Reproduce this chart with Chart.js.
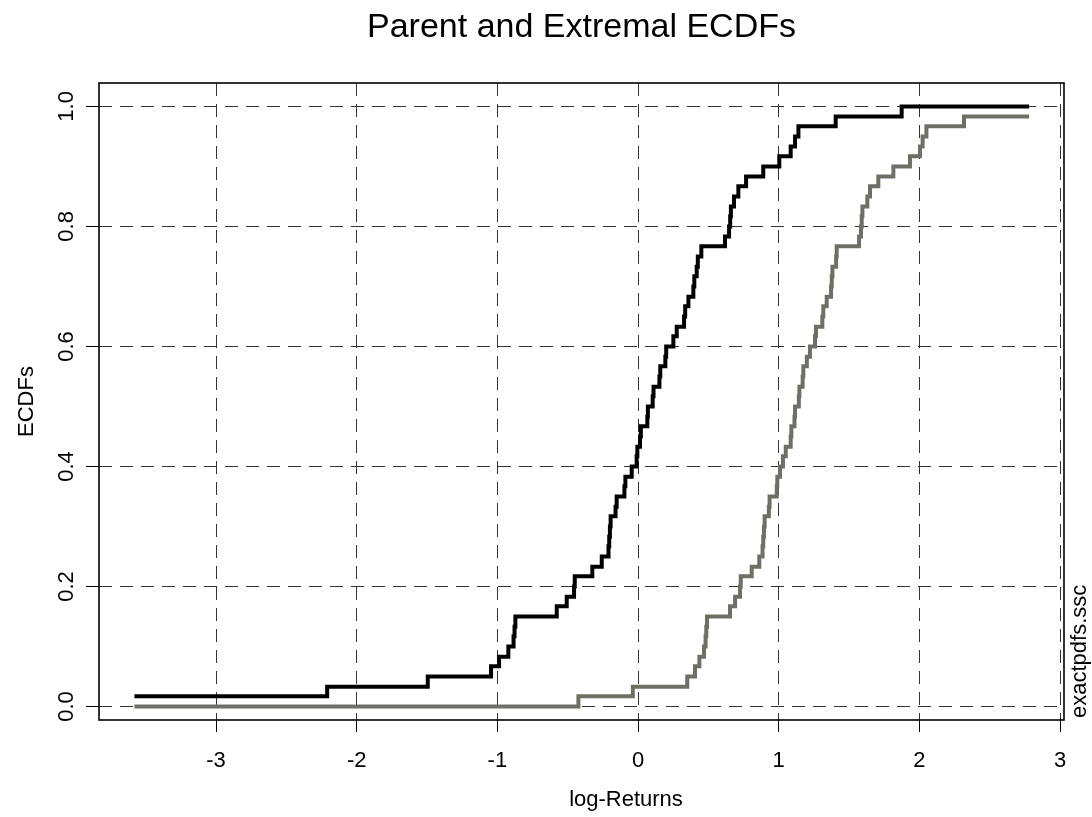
<!DOCTYPE html>
<html>
<head>
<meta charset="utf-8">
<title>Parent and Extremal ECDFs</title>
<script src="https://cdn.jsdelivr.net/npm/chart.js@4.4.1/dist/chart.umd.min.js"></script>
<style>
  html, body { margin: 0; padding: 0; background: #fff; }
  #wrap { width: 1092px; height: 817px; }
</style>
</head>
<body>
<div id="wrap"><canvas id="ecdf" width="1092" height="817"></canvas></div>
<script>
// values: jump positions (log-returns) and ECDF height after each jump
const parentX = [-3.58, -2.21, -1.495, -1.045, -0.988, -0.922, -0.885, -0.878, -0.872, -0.578,
  -0.507, -0.455, -0.45, -0.325, -0.258, -0.21, -0.205, -0.2, -0.195, -0.16,
  -0.152, -0.097, -0.09, -0.045, -0.01, -0.005, 0.014, 0.02, 0.066, 0.07,
  0.104, 0.11, 0.152, 0.158, 0.194, 0.2, 0.251, 0.275, 0.327, 0.335,
  0.358, 0.393, 0.4, 0.417, 0.425, 0.45, 0.618, 0.647, 0.655, 0.66,
  0.682, 0.713, 0.768, 0.89, 1.004, 1.085, 1.116, 1.14, 1.405, 1.874, 2.78];
const parentY = [0.017, 0.033, 0.05, 0.067, 0.083, 0.1, 0.117, 0.133, 0.15, 0.167,
  0.183, 0.2, 0.217, 0.233, 0.25, 0.267, 0.283, 0.3, 0.317, 0.333,
  0.35, 0.367, 0.383, 0.4, 0.417, 0.433, 0.45, 0.467, 0.483, 0.5,
  0.517, 0.533, 0.55, 0.567, 0.583, 0.6, 0.617, 0.633, 0.65, 0.667,
  0.683, 0.7, 0.717, 0.733, 0.75, 0.767, 0.783, 0.8, 0.817, 0.833,
  0.85, 0.867, 0.883, 0.9, 0.917, 0.933, 0.95, 0.967, 0.983, 1.0, 1.0];

const extremalX = [-3.58, -0.424, -0.037, 0.35, 0.405, 0.436, 0.469, 0.48, 0.485, 0.49,
  0.654, 0.69, 0.725, 0.73, 0.808, 0.862, 0.885, 0.89, 0.895, 0.9,
  0.93, 0.935, 0.986, 0.99, 1.009, 1.03, 1.05, 1.085, 1.09, 1.112,
  1.116, 1.143, 1.147, 1.17, 1.175, 1.2, 1.222, 1.258, 1.265, 1.31,
  1.317, 1.341, 1.372, 1.377, 1.382, 1.408, 1.412, 1.571, 1.585, 1.59,
  1.595, 1.63, 1.649, 1.708, 1.815, 1.933, 2.004, 2.023, 2.05, 2.317, 2.78];
const extremalY = [0, 0.017, 0.033, 0.05, 0.067, 0.083, 0.1, 0.117, 0.133, 0.15,
  0.167, 0.183, 0.2, 0.217, 0.233, 0.25, 0.267, 0.283, 0.3, 0.317,
  0.333, 0.35, 0.367, 0.383, 0.4, 0.417, 0.433, 0.45, 0.467, 0.483,
  0.5, 0.517, 0.533, 0.55, 0.567, 0.583, 0.6, 0.617, 0.633, 0.65,
  0.667, 0.683, 0.7, 0.717, 0.733, 0.75, 0.767, 0.783, 0.8, 0.817,
  0.833, 0.85, 0.867, 0.883, 0.9, 0.917, 0.933, 0.95, 0.967, 0.983, 0.983];

const xTicks = [-3, -2, -1, 0, 1, 2, 3];
const yTicks = [0, 0.2, 0.4, 0.6, 0.8, 1.0];
const yTickLabels = ["0.0", "0.2", "0.4", "0.6", "0.8", "1.0"];

const FONT = "'Liberation Sans', Arial, sans-serif";
Chart.defaults.font.family = FONT;
Chart.defaults.color = "#000";

const toPoints = (xs, ys) => xs.map((x, i) => ({ x: x, y: ys[i] }));

// box around the plot region, x label, and the script name on the right
const framePlugin = {
  id: "frame",
  afterDraw(chart) {
    const { ctx, chartArea: a } = chart;
    ctx.save();
    ctx.strokeStyle = "#000";
    ctx.lineWidth = 1.6;
    ctx.strokeRect(a.left, a.top, a.right - a.left, a.bottom - a.top);

    ctx.fillStyle = "#000";
    ctx.font = "22px " + FONT;
    ctx.textAlign = "center";
    ctx.textBaseline = "middle";
    ctx.fillText("log-Returns", 626, 800);

    ctx.translate(1080, a.bottom - 2);
    ctx.rotate(-Math.PI / 2);
    ctx.textAlign = "left";
    ctx.fillText("exactpdfs.ssc", 0, 0);
    ctx.restore();
  }
};

new Chart(document.getElementById("ecdf").getContext("2d"), {
  type: "scatter",
  data: {
    datasets: [
      {
        label: "Parent",
        data: toPoints(parentX, parentY),
        showLine: true,
        stepped: "before",
        borderColor: "#000",
        borderWidth: 4,
        pointRadius: 0,
        borderJoinStyle: "miter",
        borderCapStyle: "butt"
      },
      {
        label: "Extremal",
        data: toPoints(extremalX, extremalY),
        showLine: true,
        stepped: "before",
        borderColor: "#6f6f66",
        borderWidth: 4,
        pointRadius: 0,
        borderJoinStyle: "miter",
        borderCapStyle: "butt"
      }
    ]
  },
  options: {
    responsive: false,
    animation: false,
    layout: { padding: { left: 0, right: 28, top: 0, bottom: 0 } },
    plugins: {
      legend: { display: false },
      tooltip: { enabled: false },
      title: {
        display: true,
        fullSize: false,
        text: "Parent and Extremal ECDFs",
        color: "#000",
        font: { size: 34, weight: "normal" },
        padding: { top: 7, bottom: 35.2 }
      }
    },
    scales: {
      x: {
        type: "linear",
        min: -3.832,
        max: 3.028,
        afterBuildTicks: s => { s.ticks = xTicks.map(v => ({ value: v })); },
        afterFit: s => { s.height = 97; },
        ticks: { font: { size: 22 }, color: "#000", padding: 16, maxRotation: 0 },
        grid: { color: "#333", lineWidth: 1, tickLength: 12, tickColor: "#000", tickWidth: 1 },
        border: { display: false, dash: [13, 8] },
        title: { display: false }
      },
      y: {
        type: "linear",
        min: -0.0225,
        max: 1.039,
        afterBuildTicks: s => { s.ticks = yTicks.map(v => ({ value: v })); },
        afterFit: s => { s.width = 99; },
        ticks: {
          font: { size: 22 },
          color: "#000",
          padding: 4,
          minRotation: 90,
          maxRotation: 90,
          crossAlign: "center",
          callback: (v) => yTickLabels[yTicks.indexOf(v)]
        },
        grid: { color: "#333", lineWidth: 1, tickLength: 13, tickColor: "#000", tickWidth: 1 },
        border: { display: false, dash: [13, 8] },
        title: { display: true, text: "ECDFs", font: { size: 22 }, color: "#000", padding: { top: 14 } }
      }
    }
  },
  plugins: [framePlugin]
});
</script>
</body>
</html>
